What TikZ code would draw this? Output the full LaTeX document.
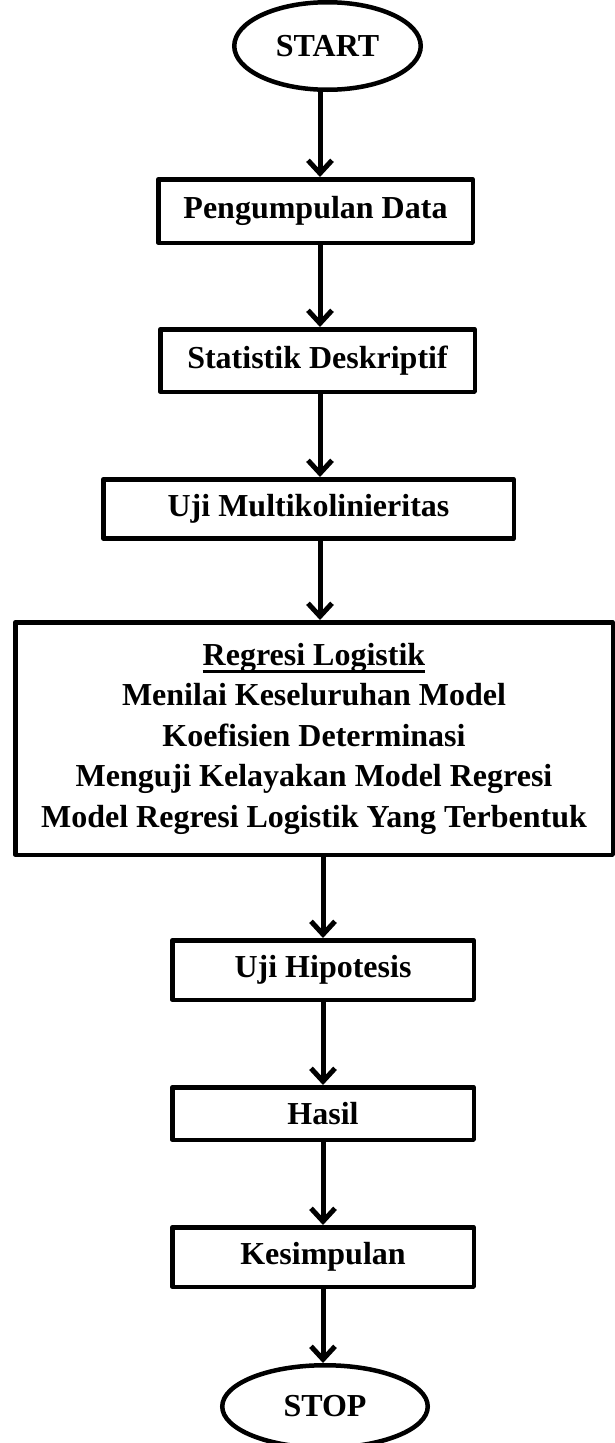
\documentclass[tikz,border=0pt]{standalone}
\usepackage{fontspec}
\setmainfont{Liberation Serif}
\usetikzlibrary{shapes.geometric,arrows.meta}

\newcommand{\ulword}[1]{{\setbox0\hbox{#1}\rlap{\rule[-8pt]{\wd0}{2.6pt}}\box0}}

\tikzset{
    terminal/.style={ellipse, draw, line width=4.5pt, inner sep=0pt},
    procbox/.style={rectangle, draw, line width=4.5pt, line join=round, inner sep=0pt, align=center},
    flow/.style={-{Straight Barb[length=13pt,width=24pt]}, line width=5pt},
}

\begin{document}
\begin{tikzpicture}[x=1pt, y=-1pt, font=\bfseries\fontsize{32}{40.5}\selectfont]
        \useasboundingbox (0,0) rectangle (615,1443);

        % Start
            \node[terminal, minimum width=186.5pt, minimum height=87.5pt] (start) at (327.5,46) {START};

            % Steps
            \node[procbox, minimum width=314.5pt, minimum height=63.5pt] (data) at (315.5,211) {Pengumpulan Data};
            \node[procbox, minimum width=314.5pt, minimum height=62.5pt] (desc) at (317.5,360.5) {Statistik Deskriptif};
            \node[procbox, minimum width=410.5pt, minimum height=59pt] (multi) at (308.5,508.75) {Uji Multikolinieritas};

            % Logistic regression block
            \node[procbox, minimum width=597.5pt, minimum height=232.5pt] (logit) at (314,738.5)
                {\ulword{Regresi Logistik}\\Menilai Keseluruhan Model\\Koefisien Determinasi\\Menguji Kelayakan Model Regresi\\Model Regresi Logistik Yang Terbentuk};

            \node[procbox, minimum width=301.5pt, minimum height=59.5pt] (hypo) at (323,970) {Uji Hipotesis};
            \node[procbox, minimum width=301.5pt, minimum height=52.5pt] (result) at (323,1113.5) {Hasil};
            \node[procbox, minimum width=301.5pt, minimum height=59.5pt] (concl) at (323,1257) {Kesimpulan};

            % Stop
            \node[terminal, minimum width=205.5pt, minimum height=82.5pt] (stop) at (325,1406.5) {STOP};

            % Arrows along one spine
            \coordinate (spine) at (320,0);
            \draw[flow] (start.south -| spine) -- (data.north -| spine);
            \draw[flow] (data.south -| spine) -- (desc.north -| spine);
            \draw[flow] (desc.south -| spine) -- (multi.north -| spine);
            \draw[flow] (multi.south -| spine) -- (logit.north -| spine);
            \coordinate (spinelow) at (323,0);
            \draw[flow] (logit.south -| spinelow) -- (hypo.north -| spinelow);
            \draw[flow] (hypo.south -| spinelow) -- (result.north -| spinelow);
            \draw[flow] (result.south -| spinelow) -- (concl.north -| spinelow);
            \draw[flow] (concl.south -| spinelow) -- (stop.north -| spinelow);

    \end{tikzpicture}
\end{document}
